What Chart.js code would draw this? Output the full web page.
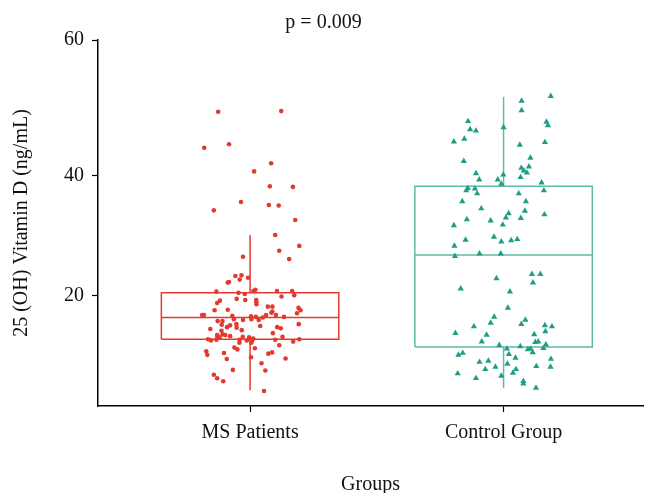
<!DOCTYPE html>
<html>
<head>
<meta charset="utf-8">
<script src="https://cdn.jsdelivr.net/npm/chart.js@4.4.1/dist/chart.umd.min.js"></script>
<style>
  html, body { margin: 0; padding: 0; background: #fff; }
</style>
</head>
<body>
<canvas id="chart" width="647" height="493"></canvas>
<script>
const groups = ['MS Patients', 'Control Group'];
const groupX = [1, 2];
const yTicks = [20, 40, 60];

// box stats, ng/mL
const whiskerLow = [4.3, 4.7];
const q1 = [12.8, 11.5];
const median = [16.4, 26.8];
const q3 = [20.5, 38.2];
const whiskerHigh = [30.1, 51.6];

// MS patients: jitter offset from group centre, value
const msJitter = [-0.126, 0.123, -0.181, -0.083, 0.083, 0.016, 0.078, 0.169, -0.036, -0.143, 0.074, 0.113, 0.178, 0.099,
  0.194, 0.115, -0.028, 0.154, -0.058, -0.034, -0.041, -0.008, -0.088, -0.083,
  -0.133, -0.046, -0.021, 0.013, 0.021, 0.106, 0.166, 0.174, 0.124, -0.053,
  -0.019, 0.024, -0.119, -0.130, 0.025, 0.025, 0.070, 0.088, -0.140, -0.088,
  0.191, 0.199, 0.185, -0.189, -0.182, -0.070, -0.064, 0.004, 0.023, 0.050,
  0.063, 0.084, 0.088, 0.102, 0.134, -0.128, -0.109, -0.028, 0.005, 0.034,
  -0.112, -0.079, -0.091, -0.054, -0.053, 0.040, 0.192, -0.157, -0.033, -0.113,
  0.107, 0.121, 0.090, -0.130, -0.108, -0.098, -0.079, -0.129, -0.120, -0.029,
  -0.004, 0.012, -0.166, -0.154, -0.133, -0.042, -0.013, 0.008, 0.099, 0.128,
  0.194, 0.170, -0.042, 0.005, 0.115, -0.062, -0.050, 0.019, -0.173, -0.169,
  -0.103, 0.072, 0.087, 0.004, 0.140, -0.092, 0.045, -0.068, 0.060, -0.143,
  -0.130, -0.106, 0.055];
const msValues = [49.4, 49.5, 44.1, 44.6, 41.8, 40.6, 38.2, 38.1, 35.6, 34.2, 35.1, 35.0, 32.6, 30.1,
  28.3, 27.5, 26.5, 26.1, 23.3, 23.4, 22.7, 23.0, 22.2, 22.3,
  20.7, 20.5, 20.3, 20.8, 21.0, 20.8, 20.8, 20.1, 19.9, 19.5,
  19.3, 19.3, 19.2, 18.8, 19.0, 18.6, 18.2, 18.2, 17.6, 17.7,
  18.0, 17.6, 17.1, 16.8, 16.8, 16.7, 16.1, 16.6, 16.5, 16.4,
  16.8, 17.2, 17.4, 16.8, 16.5, 15.8, 15.8, 16.0, 16.1, 16.0,
  15.2, 15.1, 14.8, 15.3, 14.7, 15.0, 15.3, 14.5, 14.3, 14.2,
  14.8, 14.6, 13.8, 13.5, 13.6, 13.5, 13.3, 13.2, 13.1, 13.2,
  13.1, 12.9, 12.8, 12.6, 12.7, 12.7, 12.6, 12.6, 12.7, 13.2,
  12.8, 12.4, 12.2, 12.2, 11.8, 11.4, 11.1, 11.3, 10.8, 10.2,
  10.5, 10.4, 10.6, 9.8, 9.6, 9.5, 8.8, 7.7, 7.6, 6.9,
  6.3, 5.8, 4.2];

// control group
const ctrlJitter = [0.186, 0.071, 0.071, -0.140, 0.169, 0.175, -0.132, -0.109, 0.000, -0.196,
  -0.155, 0.163, 0.064, -0.157, 0.106, 0.070, 0.100, 0.080, 0.092, 0.067,
  -0.109, -0.096, -0.001, -0.023, -0.009, 0.150, 0.159, -0.141, -0.147, -0.113,
  -0.104, 0.060, 0.088, -0.163, -0.088, 0.084, 0.020, 0.009, 0.068, 0.161,
  -0.145, -0.051, -0.196, -0.003, -0.038, -0.150, 0.054, 0.030, -0.009, -0.194,
  -0.192, -0.095, -0.011, 0.112, 0.145, 0.116, -0.028, -0.169, 0.025, 0.017,
  -0.037, 0.086, 0.070, -0.051, -0.117, 0.163, 0.191, 0.165, -0.190, -0.067,
  0.121, -0.086, 0.125, 0.137, -0.017, 0.167, 0.066, 0.013, 0.096, 0.107,
  0.157, 0.115, -0.161, -0.178, 0.021, 0.047, 0.187, -0.095, -0.060, 0.015,
  -0.032, 0.129, 0.185, -0.072, 0.049, 0.037, -0.181, -0.009, -0.109, 0.078,
  0.078, 0.128];
const ctrlValues = [51.7, 51.0, 49.6, 48.0, 47.9, 47.4, 46.8, 46.6, 47.1, 45.0,
  45.4, 44.9, 44.5, 42.1, 42.6, 41.1, 41.3, 40.7, 40.4, 39.7,
  40.3, 39.3, 40.1, 39.3, 38.6, 38.8, 37.5, 37.9, 37.5, 37.8,
  37.0, 37.0, 35.7, 35.7, 34.5, 34.1, 33.7, 33.0, 32.9, 33.5,
  32.7, 32.5, 31.7, 31.8, 29.8, 29.3, 29.4, 29.2, 29.0, 28.3,
  26.6, 27.0, 27.0, 23.6, 23.6, 22.2, 22.9, 21.2, 20.7, 18.0,
  16.5, 16.0, 15.3, 15.5, 14.9, 15.1, 14.9, 14.1, 13.8, 13.5,
  13.6, 12.4, 12.3, 12.4, 11.8, 11.9, 11.6, 11.2, 11.1, 11.2,
  11.3, 10.6, 10.5, 10.2, 10.3, 9.7, 9.5, 9.0, 9.2, 8.7,
  8.2, 8.3, 8.2, 7.8, 7.8, 7.2, 7.1, 6.7, 6.3, 5.8,
  5.4, 4.7];

const RED = '#e33a2d';
const TEAL_PT = '#1f9e86';
const TEAL_LINE = '#5dbba7';
const boxHalf = 0.35;
const FONT = { family: "'Liberation Serif', 'DejaVu Serif', serif", size: 20, weight: 'normal' };

// the source axis is stretched above 40 (40->60 spans more than 20->40)
const BREAK = 40, STRETCH = 1.125;
const warp = v => v <= BREAK ? v : BREAK + (v - BREAK) * STRETCH;
const unwarp = w => w <= BREAK ? w : BREAK + (w - BREAK) / STRETCH;

class StretchScale extends Chart.LinearScale {
  getPixelForValue(value) {
    if (value === null || value === undefined || isNaN(value)) return NaN;
    const a = warp(this.min), b = warp(this.max);
    return this.getPixelForDecimal((warp(value) - a) / (b - a));
  }
  getValueForPixel(pixel) {
    const a = warp(this.min), b = warp(this.max);
    return unwarp(a + this.getDecimalForPixel(pixel) * (b - a));
  }
}
StretchScale.id = 'stretch';
StretchScale.defaults = Chart.LinearScale.defaults;
Chart.register(StretchScale);

const lineSet = (data, color) => ({
  data, showLine: true, pointRadius: 0, pointHoverRadius: 0,
  borderColor: color, borderWidth: 1.5, tension: 0, fill: false
});

const datasets = [
  {
    data: msValues.map((v, i) => ({ x: groupX[0] + msJitter[i], y: v })),
    pointStyle: 'circle', pointRadius: 2.3, backgroundColor: RED, borderWidth: 0
  },
  {
    data: ctrlValues.map((v, i) => ({ x: groupX[1] + ctrlJitter[i], y: v })),
    pointStyle: 'triangle', pointRadius: 3.6, backgroundColor: TEAL_PT, borderColor: TEAL_PT, borderWidth: 0
  }
];

groupX.forEach((gx, i) => {
  const c = i === 0 ? RED : TEAL_LINE;
  const l = gx - boxHalf, r = gx + boxHalf;
  datasets.push(lineSet([{x: l, y: q1[i]}, {x: r, y: q1[i]}, {x: r, y: q3[i]}, {x: l, y: q3[i]}, {x: l, y: q1[i]}], c));
  datasets.push(lineSet([{x: l, y: median[i]}, {x: r, y: median[i]}], c));
  datasets.push(lineSet([{x: gx, y: q3[i]}, {x: gx, y: whiskerHigh[i]}], c));
  datasets.push(lineSet([{x: gx, y: q1[i]}, {x: gx, y: whiskerLow[i]}], c));
});

const axisGrid = { display: true, drawOnChartArea: false, drawTicks: true, tickLength: 6, tickWidth: 1.2, tickColor: '#000' };

new Chart(document.getElementById('chart').getContext('2d'), {
  type: 'scatter',
  data: { datasets },
  options: {
    responsive: false,
    animation: false,
    devicePixelRatio: 1,
    layout: { padding: 0 },
    plugins: {
      legend: { display: false },
      tooltip: { enabled: false },
      title: {
        display: true, text: 'p = 0.009', color: '#111', font: FONT,
        padding: { top: 11, bottom: 5 }
      }
    },
    scales: {
      x: {
        type: 'linear', min: 0.4, max: 2.55,
        afterBuildTicks: s => { s.ticks = groupX.map(v => ({ value: v })); },
        ticks: {
          callback: v => groups[groupX.indexOf(v)] || '',
          color: '#111', font: FONT, padding: 9, maxRotation: 0, autoSkip: false
        },
        grid: axisGrid,
        border: { display: true, color: '#000', width: 1.5 },
        title: { display: true, text: 'Groups', color: '#111', font: FONT, padding: { top: 19, bottom: -4 } }
      },
      y: {
        type: 'stretch', min: 1.7, max: 60,
        afterBuildTicks: s => { s.ticks = yTicks.map(v => ({ value: v })); },
        ticks: { color: '#111', font: FONT, padding: 8 },
        grid: axisGrid,
        border: { display: true, color: '#000', width: 1.5 },
        title: { display: true, text: '25 (OH) Vitamin D (ng/mL)', color: '#111', font: FONT, padding: { top: 10, bottom: 22 } }
      }
    }
  }
});
</script>
</body>
</html>
